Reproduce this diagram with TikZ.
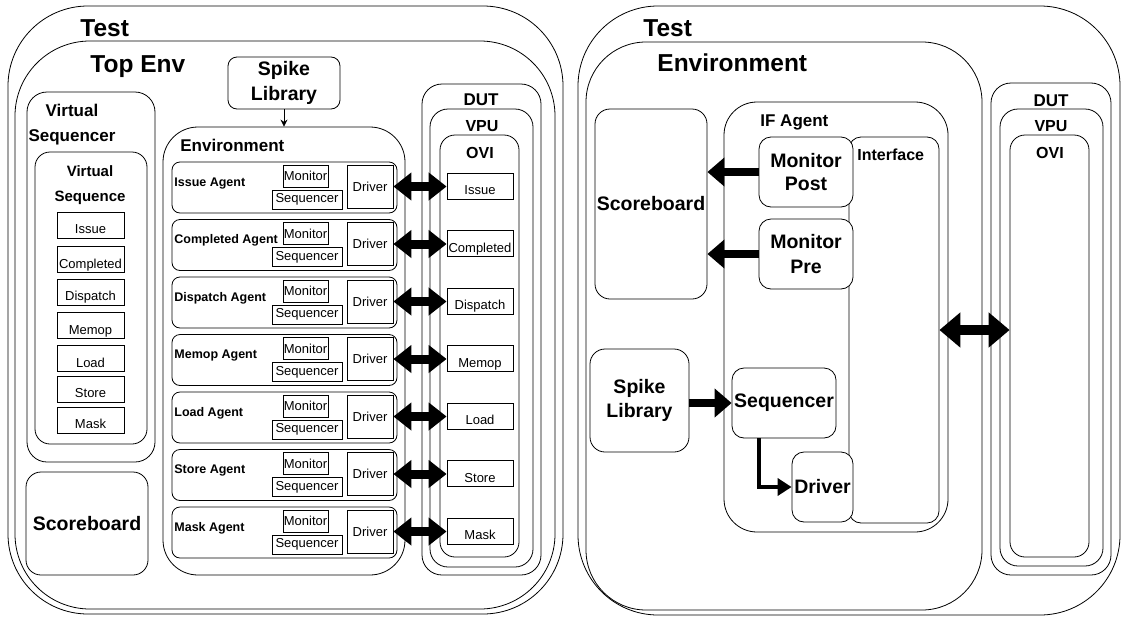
\documentclass[tikz,border=0pt]{standalone}
\usepackage{fontspec}
\setmainfont{Liberation Sans}
\usetikzlibrary{arrows.meta,positioning,fit}

\begin{document}
\begin{tikzpicture}[x=1pt, y=-1pt, line width=0.8pt,
    frame/.style={draw, fill=white, inner sep=0pt},
    title/.style={font=\bfseries\fontsize{24.5}{28}\selectfont, inner sep=0pt, anchor=base west},
    caption/.style={font=\bfseries\fontsize{17}{25}\selectfont, inner sep=0pt, align=center},
    block/.style={draw, fill=white, rounded corners=12pt, inner sep=0pt, align=center,
        font=\bfseries\fontsize{19.5}{24.5}\selectfont},
    cell/.style={draw, fill=white, inner sep=0pt, font=\fontsize{13}{13}\selectfont},
    slot/.style={cell, minimum width=66pt, minimum height=26pt, text height=17pt, text depth=0pt},
    agent/.style={draw, fill=white, rounded corners=8pt, inner sep=0pt, minimum width=225pt, minimum height=51pt},
    bus/.style={line width=9pt, {Triangle[length=18pt,width=27pt]}-{Triangle[length=18pt,width=27pt]}},
    buswide/.style={line width=10pt, {Triangle[length=21pt,width=34pt]}-{Triangle[length=21pt,width=34pt]}},
    feed/.style={line width=8.5pt, -{Triangle[length=17pt,width=28pt]}},
    nudge/.style={line width=4pt, -{Triangle[length=14pt,width=17pt]}}
]
\path[use as bounding box, fill=white] (0,0) rectangle (1123,616);

% Left: full test bench
\node[frame, rounded corners=80pt, fit={(8,6) (563,614)}] (testL) {};
\node[title] at (80,36) {Test};
\node[frame, rounded corners=75pt, fit={(15,41) (555,609)}] (topenv) {};
\node[title] at (90,72) {Top Env};

\node[block, minimum width=112pt, minimum height=52pt, rounded corners=9pt] (spikeL) at (284,83) {Spike\\Library};

% Virtual sequencer
\node[frame, rounded corners=20pt, fit={(27,92) (155,462)}] (vseqr) {};
\node[caption] at (72,125) {Virtual\\Sequencer};
\node[frame, rounded corners=15pt, fit={(35,152) (147,444)}] (vseq) {};
\node[caption, font=\bfseries\fontsize{15}{25}\selectfont] at (90,185) {Virtual\\Sequence};
\foreach \txt/\y in {Issue/225, Completed/259.5, Dispatch/292, Memop/325.5, Load/358.5, Store/389, Mask/420}
  \node[slot, minimum width=67pt] (vs\txt) at (90.5,\y) {\txt};

\node[block, minimum width=122pt, minimum height=103pt, rounded corners=15pt] (scoreL) at (87,523.5) {Scoreboard};

% DUT
\node[frame, rounded corners=20pt, fit={(422,84) (541,575)}] (dutL) {};
\node[caption] at (481,100) {DUT};
\node[frame, rounded corners=18pt, fit={(430,109) (533,567)}] (vpuL) {};
\node[caption, font=\bfseries\fontsize{16}{20}\selectfont] at (482,126) {VPU};
\node[frame, rounded corners=15pt, fit={(440,135) (519,557)}] (oviL) {};
\node[caption, font=\bfseries\fontsize{16}{20}\selectfont] at (480,152.5) {OVI};

% Environment with agents
\node[frame, rounded corners=35pt, fit={(163,127) (405,575)}] (envL) {};
\node[title, font=\bfseries\fontsize{17}{20}\selectfont] at (180,151) {Environment};
\draw[-{Stealth[length=7pt,width=7pt]}] (spikeL.south) -- (spikeL.south |- envL.north);

\foreach \nm/\txt [count=\i from 0] in {issue/Issue, completed/Completed, dispatch/Dispatch,
    memop/Memop, load/Load, store/Store, mask/Mask}{
  \pgfmathsetmacro{\ty}{162+57.5*\i}
  \node[agent] (\nm Agent) at (284.5,\ty+25.5) {};
  \node[anchor=base west, inner sep=0pt, font=\bfseries\fontsize{12.5}{13}\selectfont] at (174,\ty+24) {\txt\ Agent};
  \node[cell, minimum width=45pt, minimum height=22pt] (\nm Mon) at (305.5,\ty+14) {Monitor};
  \node[cell, minimum width=70pt, minimum height=19pt] (\nm Seq) at (307,\ty+37.5) {Sequencer};
  \node[cell, minimum width=46pt, minimum height=43pt] (\nm Drv) at (370,\ty+24.5) {Driver};
  \node[slot] (\nm Ovi) at (480,\ty+24) {\txt};
  \draw[bus] (\nm Drv.east) -- (\nm Drv.east -| \nm Ovi.west);
}

% Right: interface agent view
\node[frame, rounded corners=80pt, fit={(578,6) (1120,615)}] (testR) {};
\node[title] at (643,36) {Test};
\node[frame, rounded corners=60pt, fit={(586,42) (982,610)}] (envR) {};
\node[title] at (657,71) {Environment};

\node[block, minimum width=112pt, minimum height=190pt, rounded corners=15pt] (scoreR) at (651,204) {Scoreboard};
\node[frame, rounded corners=33pt, fit={(724,102) (948,532)}] (ifagent) {};
\node[title, font=\bfseries\fontsize{17}{20}\selectfont] at (760,126) {IF Agent};
\node[frame, rounded corners=12pt, fit={(849,137) (939,523)}] (iface) {};
\node[title, font=\bfseries\fontsize{16}{20}\selectfont] at (857,160) {Interface};

\node[block, minimum width=94pt, minimum height=70pt, font=\bfseries\fontsize{19.5}{23}\selectfont] (monPost) at (806,172) {Monitor\\Post};
\node[block, minimum width=94pt, minimum height=70pt] (monPre) at (806,254) {Monitor\\Pre};
\node[block, minimum width=99pt, minimum height=103pt, rounded corners=15pt] (spikeR) at (639.5,400.5) {Spike\\Library};
\node[block, minimum width=104pt, minimum height=70pt] (seqR) at (784,403) {Sequencer};
\node[block, minimum width=61pt, minimum height=70pt] (drvR) at (822.5,487) {Driver};

\node[frame, rounded corners=20pt, fit={(991,83) (1111,575)}] (dutR) {};
\node[caption] at (1051,100.5) {DUT};
\node[frame, rounded corners=18pt, fit={(1000,109) (1103,566)}] (vpuR) {};
\node[caption, font=\bfseries\fontsize{16}{20}\selectfont] at (1051,126) {VPU};
\node[frame, rounded corners=15pt, fit={(1010,135) (1089,557)}] (oviR) {};
\node[caption, font=\bfseries\fontsize{16}{20}\selectfont] at (1050,152.5) {OVI};

\draw[feed] (monPost.west) -- (monPost.west -| scoreR.east);
\draw[feed] (monPre.west) -- (monPre.west -| scoreR.east);
\draw[feed] (spikeR.east |- seqR.west) -- (seqR.west);
\draw[nudge] ([xshift=-25pt]seqR.south) |- (drvR.west);
\draw[buswide] (iface.east) -- (iface.east -| oviR.west);

\end{tikzpicture}
\end{document}
